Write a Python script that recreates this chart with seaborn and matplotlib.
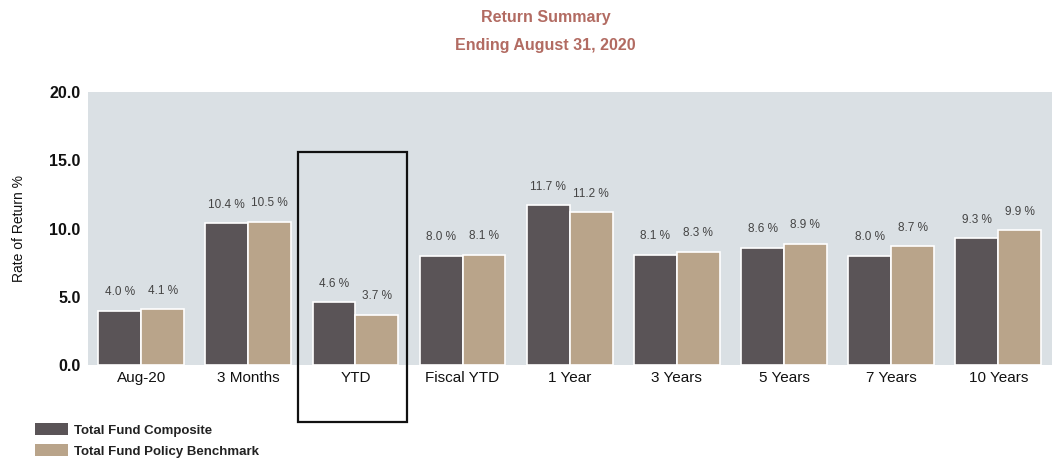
import matplotlib
matplotlib.use("Agg")
import matplotlib.pyplot as plt
import matplotlib.patches as mpatches
import seaborn as sns
import pandas as pd

periods = ["Aug-20", "3 Months", "YTD", "Fiscal YTD", "1 Year",
           "3 Years", "5 Years", "7 Years", "10 Years"]
composite = [4.0, 10.4, 4.6, 8.0, 11.7, 8.1, 8.6, 8.0, 9.3]
benchmark = [4.1, 10.5, 3.7, 8.1, 11.2, 8.3, 8.9, 8.7, 9.9]
series_names = ["Total Fund Composite", "Total Fund Policy Benchmark"]
highlight = "YTD"

df = pd.DataFrame({
    "Period": periods * 2,
    "Return": composite + benchmark,
    "Series": [series_names[0]] * len(periods) + [series_names[1]] * len(periods),
})

sns.set_theme(style="white")
plt.rcParams["font.family"] = ["Liberation Sans", "DejaVu Sans"]

colors = {series_names[0]: "#5a5457", series_names[1]: "#b9a48a"}

fig = plt.figure(figsize=(10.55, 4.61), dpi=100)
ax = fig.add_axes([0.083, 0.208, 0.914, 0.592])
ax.set_facecolor("#dae0e4")

sns.barplot(data=df, x="Period", y="Return", hue="Series", order=periods,
            hue_order=series_names, palette=colors, saturation=1, width=0.8,
            edgecolor="white", linewidth=1.2, ax=ax, legend=False)

for container in ax.containers:
    ax.bar_label(container, labels=[f"{v:.1f} %" for v in container.datavalues],
                 padding=9, fontsize=8.5, color="#444444")

ax.set_ylim(0, 20)
ax.set_yticks([0, 5, 10, 15, 20])
ax.set_yticklabels([f"{t:.1f}" for t in [0, 5, 10, 15, 20]], fontsize=11.5,
                   color="#111111", fontweight="bold")
ax.set_xlim(-0.5, len(periods) - 0.5)
ax.tick_params(axis="x", labelsize=11, colors="#111111", length=0, pad=4)
ax.tick_params(axis="y", length=0, pad=5)
ax.set_xlabel("")
ax.set_ylabel("Rate of Return %", fontsize=10, color="#111111", labelpad=17)
for s in ax.spines.values():
    s.set_visible(False)

# frame around the highlighted period, extending below the axis
i = periods.index(highlight)
box = mpatches.Rectangle((i - 0.54, -4.2), 1.02, 19.8, transform=ax.transData,
                         fill=False, edgecolor="#111111", linewidth=1.6, clip_on=False)
ax.add_patch(box)

fig.text(0.517, 0.962, "Return Summary", ha="center", va="center",
         fontsize=11.5, fontweight="bold", color="#b26b62")
fig.text(0.517, 0.902, "Ending August 31, 2020", ha="center", va="center",
         fontsize=11.5, fontweight="bold", color="#b26b62")

handles = [mpatches.Patch(facecolor=colors[n], edgecolor="none", label=n) for n in series_names]
leg = fig.legend(handles=handles, loc="lower left", bbox_to_anchor=(0.028, -0.004),
                 frameon=False, fontsize=9.5, handlelength=2.5, handleheight=1.0,
                 handletextpad=0.5, labelspacing=0.55, borderaxespad=0)
for t in leg.get_texts():
    t.set_fontweight("bold")
    t.set_color("#222222")

fig.savefig("out.png", dpi=100)
